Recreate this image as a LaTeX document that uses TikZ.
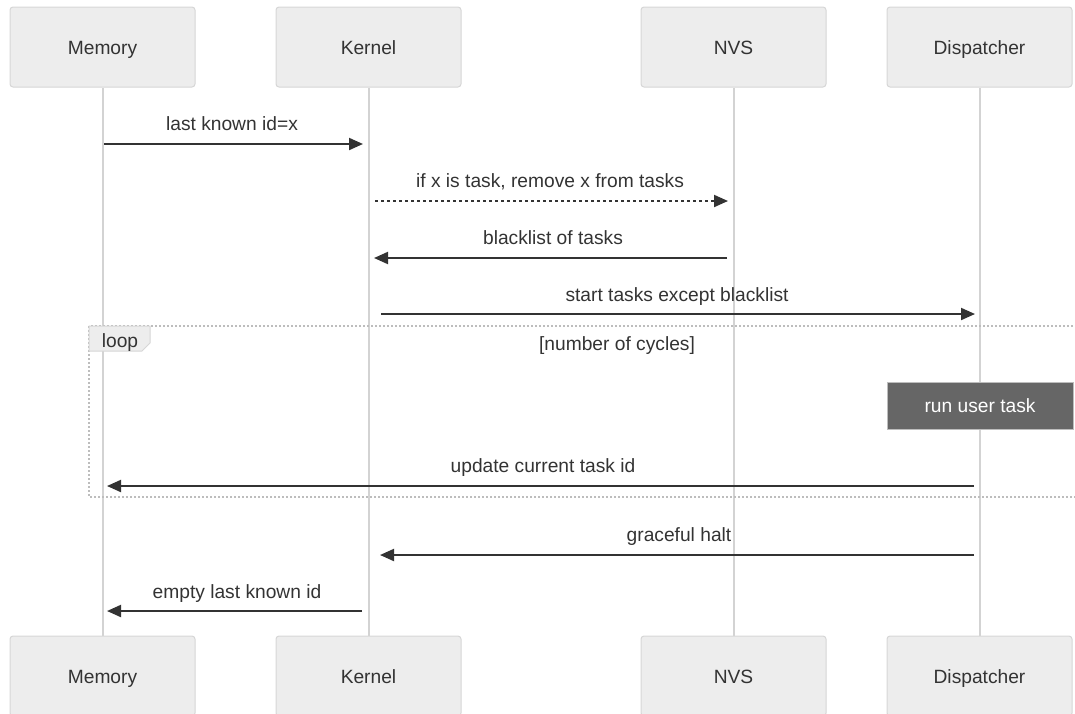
\documentclass[tikz,border=0pt]{standalone}
\usepackage{fontspec}
\setmainfont{Liberation Sans}
\usetikzlibrary{arrows.meta}
\pgfdeclarelayer{background}
\pgfsetlayers{background,main}
\definecolor{ink}{HTML}{333333}
\definecolor{actorfill}{HTML}{EDEDED}
\definecolor{actorline}{HTML}{D6D6D6}
\definecolor{lifeline}{HTML}{D3D3D3}
\definecolor{framegray}{HTML}{BDBDBD}
\definecolor{notefill}{HTML}{666666}
\tikzset{
  actor/.style={draw=actorline, fill=actorfill, line width=1pt, rounded corners=3pt,
    minimum width=185pt, minimum height=80pt, text=ink, inner sep=0pt,
    text height=16pt, text depth=2pt},
  life/.style={draw=lifeline, line width=2pt},
  msg/.style={draw=ink, line width=2pt, -{Triangle[length=14pt,width=12pt]}},
  reply/.style={msg, dash pattern=on 3pt off 3pt},
  msglabel/.style={text=ink, inner sep=0pt, anchor=base},
  frame/.style={draw=framegray, line width=2pt, dash pattern=on 2pt off 2pt},
  tab/.style={draw=actorline, fill=actorfill, line width=1pt},
  activity/.style={draw=framegray, fill=notefill, line width=1pt, text=white,
    minimum width=186pt, minimum height=47pt, inner sep=0pt,
    text height=16pt, text depth=2pt},
}
\begin{document}
\begin{tikzpicture}[x=1pt, y=-1pt, font=\fontsize{19.2}{23}\selectfont]
\useasboundingbox (0,0) rectangle (1075,713);
\clip (0,0) rectangle (1075,713);

% participants, top row
\node[actor] (memT) at (102.5,47) {Memory};
\node[actor] (kerT) at (368.5,47) {Kernel};
\node[actor] (nvsT) at (733.5,47) {NVS};
\node[actor] (disT) at (979.5,47) {Dispatcher};
% participants, bottom row
\node[actor] (memB) at (102.5,676) {Memory};
\node[actor] (kerB) at (368.5,676) {Kernel};
\node[actor] (nvsB) at (733.5,676) {NVS};
\node[actor] (disB) at (979.5,676) {Dispatcher};

% lifelines, behind everything else
\begin{pgfonlayer}{background}
\draw[life] (memT.south) -- (memB.north);
\draw[life] (kerT.south) -- (kerB.north);
\draw[life] (nvsT.south) -- (nvsB.north);
\draw[life] (disT.south) -- (disB.north);
\end{pgfonlayer}

% message end points on the lifelines
\coordinate (a1) at (104,144);  \coordinate (b1) at (363,144);
\coordinate (a2) at (375,201);  \coordinate (b2) at (728,201);
\coordinate (a3) at (727,258);  \coordinate (b3) at (374,258);
\coordinate (a4) at (381,314);  \coordinate (b4) at (975,314);
\coordinate (a5) at (974,486);  \coordinate (b5) at (107,486);
\coordinate (a6) at (974,555);  \coordinate (b6) at (380,555);
\coordinate (a7) at (362,611);  \coordinate (b7) at (107,611);

% loop frame
\draw[frame] (89,326) rectangle (1080,497);
\draw[tab] (89,326) -- (150,326) -- (150,343) -- (142,351) -- (89,351) -- cycle;
\node[msglabel] (looplbl) at (120,347) {loop};
\node[msglabel] (cond) at (617,350) {[number of cycles]};

% activation note
\node[activity] (run) at (980,405.5) {run user task};

% messages
\draw[msg] (a1) -- (b1);
\node[msglabel] (t1) at (232,130) {last known id=x};
\draw[reply] (a2) -- (b2);
\node[msglabel] (t2) at (550,187) {if x is task, remove x from tasks};
\draw[msg] (a3) -- (b3);
\node[msglabel] (t3) at (553,244) {blacklist of tasks};
\draw[msg] (a4) -- (b4);
\node[msglabel] (t4) at (677,301) {start tasks except blacklist};
\draw[msg] (a5) -- (b5);
\node[msglabel] (t5) at (543,472) {update current task id};
\draw[msg] (a6) -- (b6);
\node[msglabel] (t6) at (679,541) {graceful halt};
\draw[msg] (a7) -- (b7);
\node[msglabel] (t7) at (237,598) {empty last known id};
\end{tikzpicture}
\end{document}
